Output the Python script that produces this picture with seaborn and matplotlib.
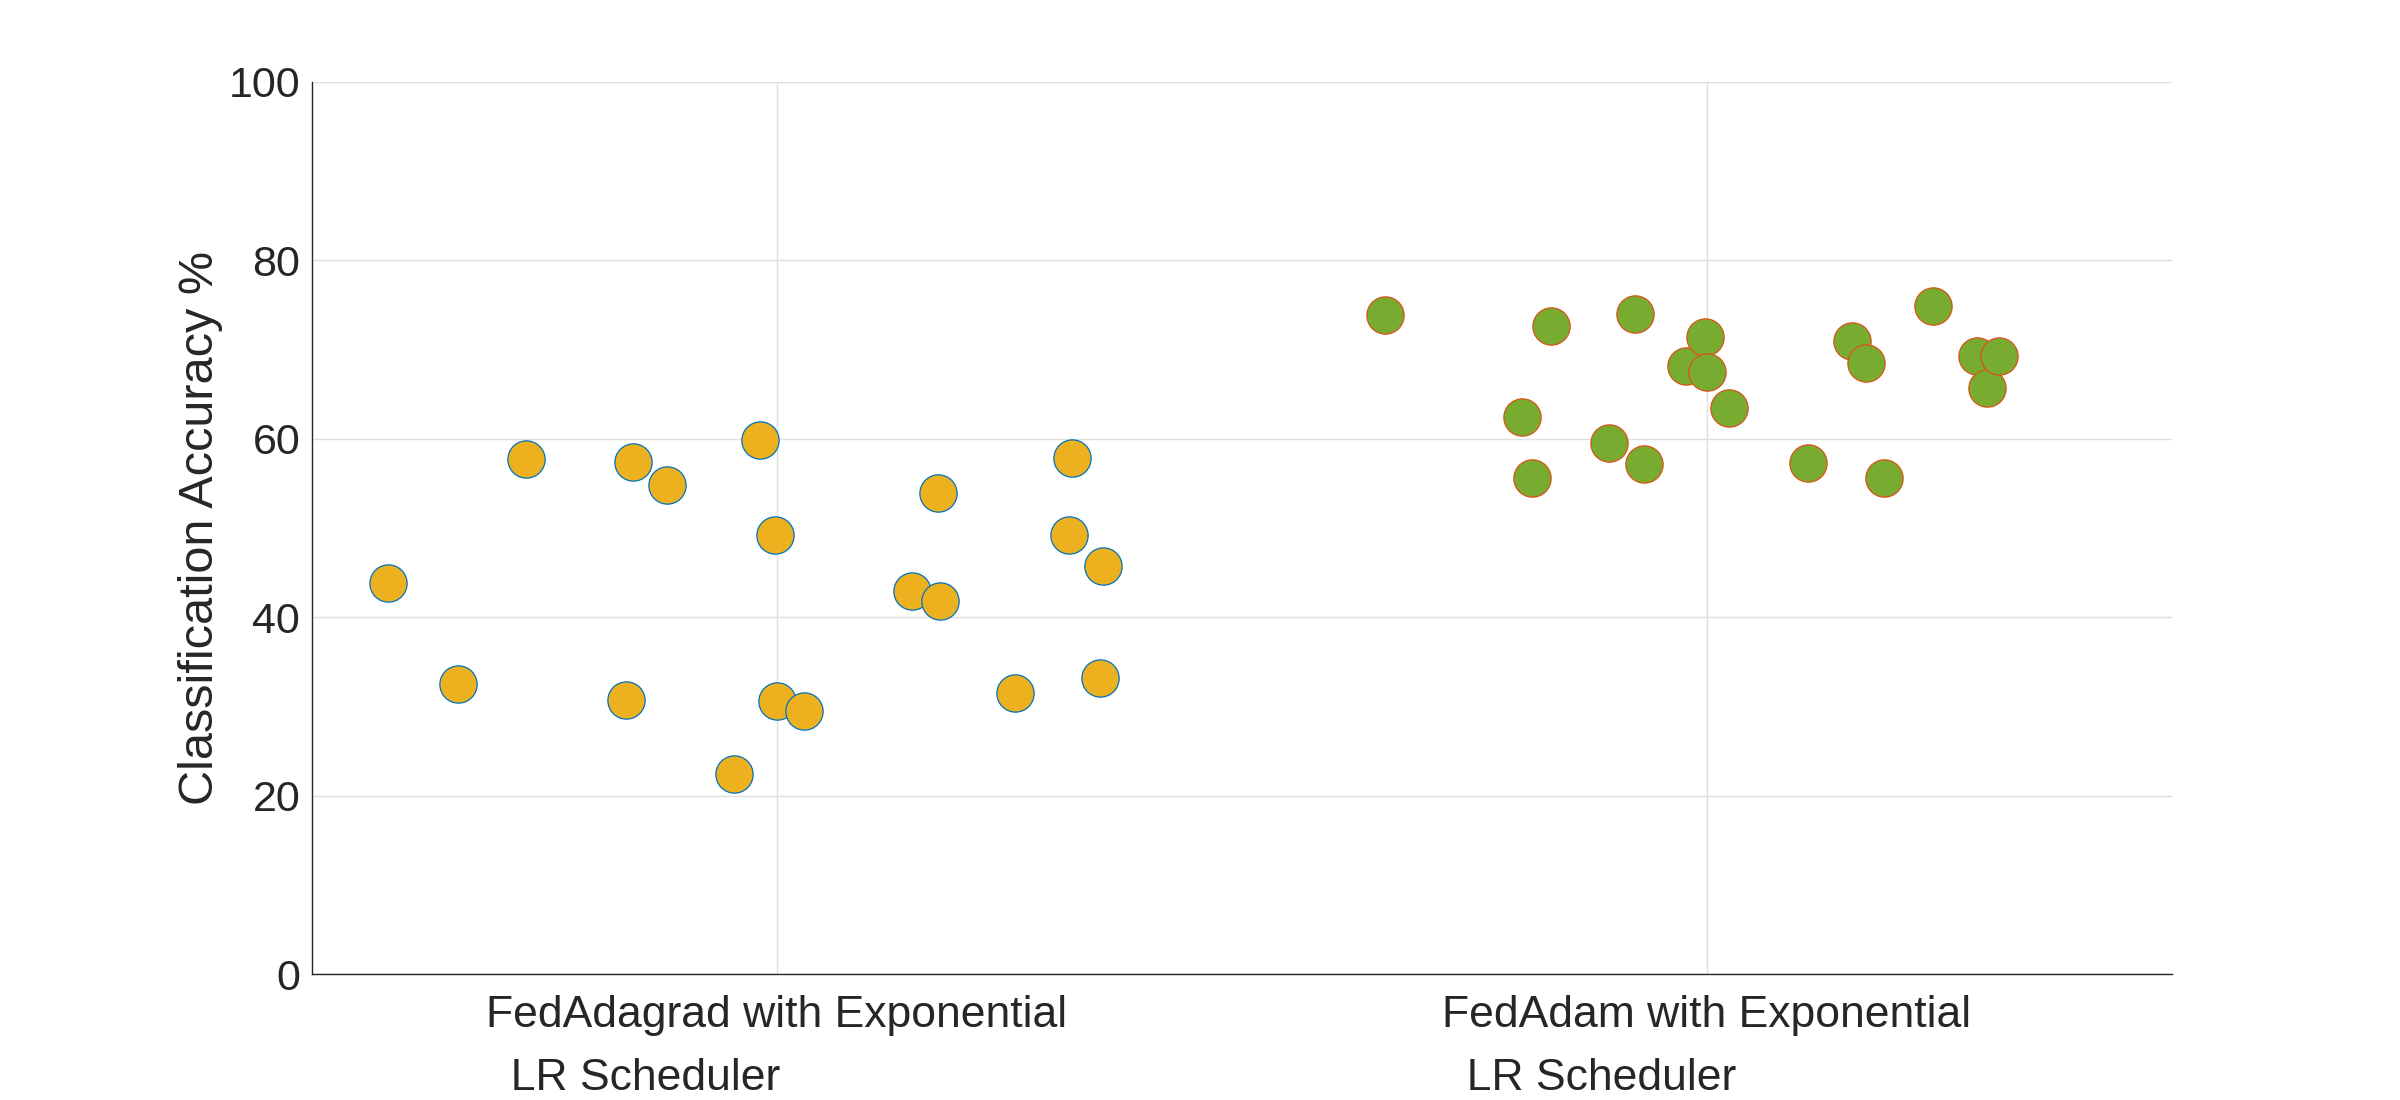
import numpy as np
import pandas as pd
import matplotlib
matplotlib.use('Agg')
import matplotlib.pyplot as plt
import seaborn as sns

# ------------------------------------------------------------
# data
# ------------------------------------------------------------
categories = ['FedAdagrad with Exponential\n  LR Scheduler',
              'FedAdam with Exponential\n  LR Scheduler']

# jittered x positions around category 1 / 2 and accuracy values
adagrad_x = [0.582, 0.657, 0.730, 0.838, 0.845, 0.882, 0.954, 0.982, 0.998, 1.000,
             1.029, 1.145, 1.173, 1.175, 1.256, 1.314, 1.317, 1.347, 1.351]
adagrad_acc = [43.8, 32.5, 57.7, 30.7, 57.4, 54.8, 22.4, 59.9, 49.2, 30.6,
               29.5, 42.9, 53.9, 41.8, 31.5, 49.2, 57.9, 33.2, 45.7]

adam_x = [1.654, 1.801, 1.812, 1.832, 1.895, 1.923, 1.932, 1.977, 1.998, 2.000,
          2.024, 2.109, 2.156, 2.171, 2.190, 2.243, 2.290, 2.301, 2.314]
adam_acc = [73.9, 62.4, 55.6, 72.6, 59.5, 74.0, 57.2, 68.2, 71.4, 67.5,
            63.4, 57.3, 71.0, 68.5, 55.6, 74.9, 69.3, 65.7, 69.3]

y_ticks = [0, 20, 40, 60, 80, 100]

df_adagrad = pd.DataFrame({'x': adagrad_x, 'acc': adagrad_acc})
df_adam = pd.DataFrame({'x': adam_x, 'acc': adam_acc})

# ------------------------------------------------------------
# style
# ------------------------------------------------------------
sns.set_style('white')
plt.rcParams['font.family'] = ['Liberation Sans', 'DejaVu Sans']
text_col = '#262626'

fig = plt.figure(figsize=(24, 11), dpi=100)
ax = fig.add_axes([0.130, 0.1145, 0.775, 0.811])

sns.scatterplot(data=df_adagrad, x='x', y='acc', ax=ax, s=720,
                color='#EDB120', edgecolor='#0072BD', linewidth=0.9,
                legend=False, zorder=3)
sns.scatterplot(data=df_adam, x='x', y='acc', ax=ax, s=720,
                color='#77AC30', edgecolor='#D95319', linewidth=0.9,
                legend=False, zorder=3)

ax.set_xlim(0.5, 2.5)
ax.set_ylim(0, 100)
ax.set_xticks([1, 2])
ax.set_xticklabels(categories)
ax.set_yticks(y_ticks)
ax.set_yticklabels([str(v) for v in y_ticks])

ax.grid(True, color='#dfdfdf', linewidth=1.0)
ax.set_axisbelow(True)

ax.set_xlabel('')
ax.set_ylabel('Classification Accuracy %', fontsize=35, color=text_col, labelpad=4)

ax.tick_params(axis='both', direction='in', length=12.5, width=1.0,
               colors=text_col, labelsize=31)
ax.tick_params(axis='x', labelsize=32, pad=15)
ax.tick_params(axis='y', pad=8.5)

for t in ax.get_xticklabels():
    t.set_multialignment('left')
    t.set_linespacing(1.7)

sns.despine(ax=ax)
for side in ['left', 'bottom']:
    ax.spines[side].set_color(text_col)
    ax.spines[side].set_linewidth(1.0)

fig.savefig('out.png', dpi=100)
